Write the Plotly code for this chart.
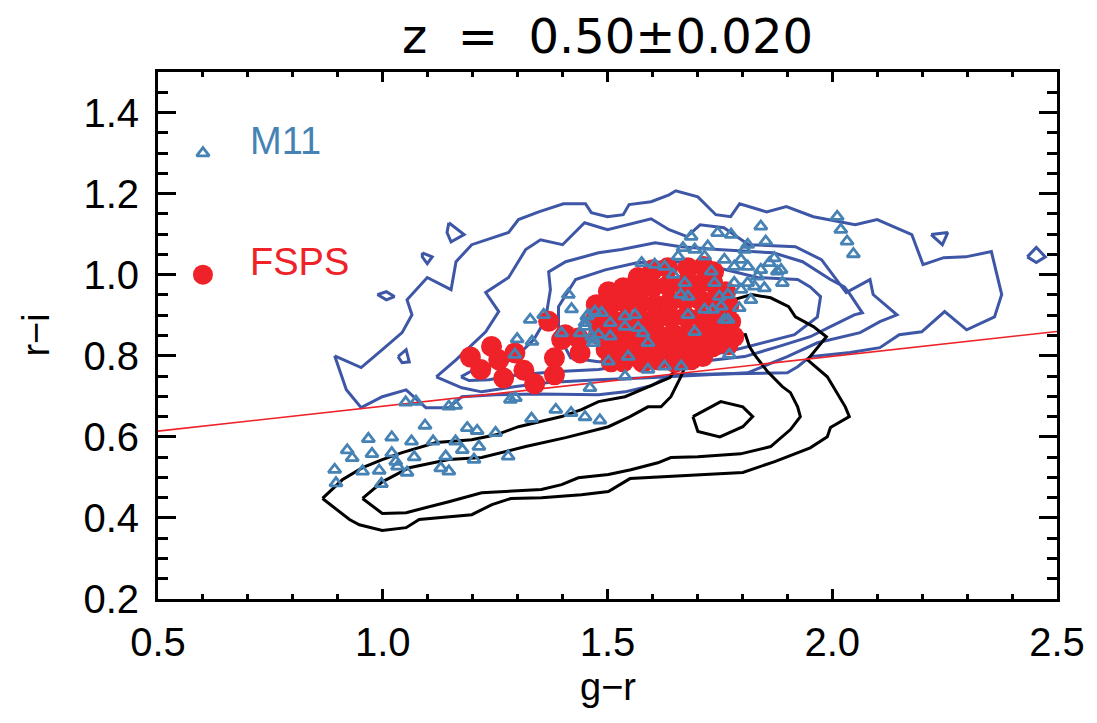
import plotly.graph_objects as go

# ---------------- data ----------------
# M11 model points: g-r, r-i
m11_gr = [0.893,0.896,0.921,0.932,0.955,0.968,0.976,0.992,0.997,1.020,1.020,1.029,1.033,1.054,1.064,1.070,
          1.094,1.112,1.129,1.140,1.147,1.162,1.177,1.188,1.203,1.210,1.214,1.251,1.279,1.331,1.385,1.419,
          1.450,1.483,1.051,1.074,1.147,1.162,1.284,1.295,1.299,1.328,1.332,1.358,1.294,1.398,1.420,1.439,
          1.450,1.457,1.472,1.487,1.465,1.506,1.502,1.539,1.461,1.539,1.561,1.568,1.546,1.413,1.454,1.469,
          1.450,1.480,1.506,1.539,1.579,1.576,1.605,1.627,1.590,1.590,1.627,1.664,1.771,1.768,1.793,1.753,
          1.731,1.738,1.734,1.679,1.672,1.694,1.723,1.745,1.775,1.805,1.812,1.841,1.852,1.871,1.878,1.889,
          1.834,1.827,1.849,1.812,1.782,1.797,1.819,1.716,1.760,1.782,1.716,1.657,1.668,1.686,1.749,1.768,
          1.812,1.841,1.860,1.886,1.797,2.011,2.019,2.033,2.047,1.646,1.663,1.679,1.694,1.760,1.469]
m11_ri = [0.519,0.486,0.567,0.548,0.515,0.595,0.558,0.517,0.484,0.599,0.560,0.539,0.527,0.512,0.589,0.550,
          0.628,0.589,0.523,0.552,0.515,0.589,0.568,0.622,0.544,0.615,0.576,0.610,0.552,0.645,0.667,0.659,
          0.649,0.641,0.685,0.687,0.675,0.677,0.692,0.696,0.841,0.889,0.835,0.901,0.803,0.856,0.915,0.856,
          0.881,0.901,0.909,0.906,0.848,0.881,0.786,0.749,0.721,0.897,0.901,0.869,0.798,0.951,0.897,0.840,
          0.872,0.852,0.848,0.872,0.856,1.029,1.025,1.020,0.832,0.766,0.774,0.774,0.803,0.889,0.918,0.922,
          1.008,0.980,0.914,0.946,0.980,1.062,1.070,1.103,1.099,1.062,1.074,1.119,1.082,1.041,1.008,0.980,
          0.996,0.971,0.967,1.020,1.020,0.963,0.938,1.045,1.037,0.980,0.914,1.045,1.066,1.094,0.946,0.951,
          0.980,1.012,1.029,1.012,1.037,1.143,1.111,1.082,1.051,1.000,0.951,0.901,0.859,0.889,0.832]

# FSPS model points: g-r, r-i
fsps_gr = [1.195,1.218,1.242,1.258,1.269,1.294,1.314,1.338,1.369,1.382,1.382,1.406,1.439,1.398,1.435,
           1.568,1.601,1.634,1.679,1.714,1.736,
           1.502,1.535,1.568,1.601,1.634,1.668,1.701,1.734,1.763,
           1.475,1.506,1.539,1.573,1.606,1.639,1.672,1.706,1.739,1.770,
           1.473,1.506,1.542,1.575,1.608,1.641,1.674,1.708,1.741,1.774,
           1.480,1.513,1.546,1.579,1.612,1.646,1.679,1.712,1.745,1.781,
           1.497,1.528,1.564,1.597,1.630,1.663,1.697,1.734,1.768,
           1.508,1.535,1.579,1.612,1.650,1.686,1.712]
fsps_ri = [0.797,0.766,0.823,0.790,0.745,0.807,0.764,0.731,0.885,0.795,0.753,0.852,0.807,0.840,0.844,
           0.993,1.012,1.017,1.017,1.020,1.007,
           0.958,0.968,0.963,0.970,0.973,0.975,0.975,0.980,0.958,
           0.926,0.926,0.931,0.931,0.926,0.933,0.938,0.938,0.938,0.924,
           0.889,0.894,0.889,0.889,0.889,0.894,0.896,0.894,0.889,0.884,
           0.852,0.852,0.852,0.852,0.852,0.854,0.854,0.857,0.852,0.847,
           0.815,0.815,0.820,0.815,0.817,0.820,0.822,0.822,0.827,
           0.785,0.785,0.783,0.790,0.783,0.790,0.798]

# separation line
cut_gr = [0.5, 2.5]
cut_ri = [0.614, 0.860]

# black contours (observed density)
blk_outer_gr = [0.866,0.910,0.955,0.999,1.043,1.119,1.198,1.252,1.302,1.369,1.398,1.442,1.480,1.539,1.590,1.639,
                1.679,1.728,1.779,1.821,1.863,1.903,1.918,1.958,1.987,1.945,1.989,2.011,2.029,2.038,1.996,1.989,
                1.951,1.872,1.801,1.550,1.502,1.442,1.353,1.285,1.243,1.198,1.081,1.052,0.999,0.948,0.926,0.866]
blk_outer_ri = [0.448,0.494,0.524,0.544,0.561,0.586,0.593,0.605,0.625,0.642,0.650,0.667,0.687,0.699,0.724,0.746,
                0.815,0.894,0.938,0.951,0.943,0.921,0.896,0.872,0.847,0.790,0.748,0.709,0.674,0.650,0.623,0.600,
                0.573,0.539,0.512,0.497,0.465,0.457,0.450,0.448,0.433,0.408,0.396,0.376,0.369,0.383,0.396,0.448]
blk_mid_gr = [0.955,0.999,1.059,1.147,1.220,1.318,1.407,1.502,1.550,1.590,1.619,1.641,1.663,1.679,1.712,1.757,
              1.807,1.816,1.827,1.856,1.889,1.907,1.923,1.929,1.907,1.863,1.796,1.701,1.641,1.612,1.552,1.502,
              1.435,1.398,1.353,1.220,1.147,1.052,0.999,0.955]
blk_mid_ri = [0.448,0.489,0.524,0.544,0.549,0.576,0.598,0.625,0.650,0.674,0.674,0.699,0.748,0.790,0.827,0.847,
              0.852,0.822,0.803,0.761,0.724,0.709,0.674,0.650,0.618,0.576,0.558,0.551,0.549,0.536,0.519,0.507,
              0.499,0.482,0.470,0.462,0.440,0.413,0.411,0.448]
blk_in_gr = [1.690,1.701,1.750,1.801,1.823,1.801,1.752,1.694,1.690]
blk_in_ri = [0.650,0.613,0.600,0.625,0.650,0.674,0.687,0.653,0.650]

# blue contours (M11 density)
blu1_gr = [0.893,0.952,0.999,1.043,1.065,1.054,1.099,1.152,1.163,1.198,1.280,1.302,1.347,1.402,1.451,1.464,
           1.500,1.535,1.548,1.597,1.637,1.652,1.701,1.741,1.774,1.794,1.854,1.898,1.958,2.016,2.051,2.100,
           2.177,2.202,2.248,2.297,2.354,2.377,2.361,2.299,2.250,2.199,2.149,2.106,2.040,1.951,1.923,1.900,
           1.641,1.597,1.539,1.480,1.347,1.251,1.176,1.147,1.096,1.052,0.999,0.952,0.919,0.893]
blu1_ri = [0.800,0.771,0.815,0.857,0.901,0.938,0.993,0.963,1.032,1.074,1.104,1.136,1.155,1.175,1.175,1.153,
           1.143,1.148,1.173,1.180,1.197,1.207,1.192,1.148,1.143,1.175,1.155,1.168,1.143,1.131,1.123,1.136,
           1.099,1.025,1.042,1.044,1.057,0.951,0.896,0.864,0.909,0.859,0.852,0.820,0.808,0.798,0.773,0.758,
           0.753,0.726,0.711,0.704,0.706,0.704,0.699,0.672,0.672,0.716,0.699,0.672,0.716,0.800]
blu2_gr = [1.119,1.163,1.229,1.258,1.229,1.280,1.318,1.351,1.400,1.449,1.500,1.597,1.637,1.677,1.706,1.759,
           1.814,1.918,1.976,2.031,2.084,2.091,2.144,2.106,2.062,1.967,1.900,1.812,1.590,1.480,1.369,1.296,
           1.220,1.176,1.119]
blu2_ri = [0.748,0.790,0.859,0.909,0.956,0.993,1.062,1.086,1.074,1.128,1.111,1.138,1.111,1.094,1.123,1.116,
           1.074,1.069,1.037,0.956,0.988,0.951,0.901,0.884,0.857,0.832,0.798,0.758,0.746,0.741,0.734,0.724,
           0.711,0.721,0.748]
blu3_gr = [1.174,1.203,1.236,1.269,1.302,1.336,1.362,1.373,1.369,1.407,1.480,1.531,1.606,1.663,1.745,1.869,
           1.934,1.996,2.027,2.040,2.067,2.049,1.996,1.951,1.878,1.805,1.701,1.553,1.480,1.391,1.302,1.236,
           1.192,1.174]
blu3_ri = [0.748,0.766,0.776,0.780,0.803,0.840,0.889,0.963,1.007,1.032,1.054,1.062,1.079,1.069,1.062,1.054,
           1.032,0.988,0.970,0.951,0.906,0.901,0.872,0.847,0.822,0.798,0.785,0.778,0.766,0.761,0.753,0.741,
           0.739,0.748]
blu4_gr = [1.480,1.418,1.391,1.391,1.429,1.495,1.568,1.657,1.745,1.834,1.923,1.951,1.974,1.967,1.916,1.827,
           1.761,1.663,1.606,1.480]
blu4_ri = [0.785,0.795,0.852,0.921,0.988,1.012,1.030,1.032,1.017,0.993,0.988,0.970,0.946,0.896,0.852,0.827,
           0.808,0.798,0.790,0.785]
# small blue islands
isl1_gr = [1.147,1.181,1.152,1.143,1.147]; isl1_ri = [1.128,1.099,1.081,1.104,1.128]
isl2_gr = [1.088,1.110,1.099,1.088,1.088]; isl2_ri = [1.054,1.044,1.027,1.044,1.054]
isl3_gr = [0.988,1.008,1.026,1.008,0.988]; isl3_ri = [0.951,0.958,0.946,0.938,0.951]
isl4_gr = [1.034,1.052,1.059,1.043,1.034]; isl4_ri = [0.798,0.815,0.785,0.783,0.798]
isl5_gr = [2.220,2.257,2.245,2.220];       isl5_ri = [1.099,1.104,1.074,1.099]
isl6_gr = [2.434,2.454,2.474,2.454,2.434]; isl6_ri = [1.044,1.067,1.044,1.030,1.044]

# legend positions
leg_tri = (0.60, 1.30)
leg_dot = (0.60, 1.00)

# ---------------- styles ----------------
C_TRI = '#4682B4'
C_RED = '#EE2228'
C_BLUE = '#3E56A6'
FONT = 'Liberation Sans, Arial, Helvetica, sans-serif'
TFONT = 'DejaVu Sans, Liberation Sans, sans-serif'

def join(*segs):
    xs, ys = [], []
    for sx, sy in segs:
        xs += list(sx) + [None]
        ys += list(sy) + [None]
    return xs, ys

fig = go.Figure()

bx, by = join((blu1_gr, blu1_ri), (blu2_gr, blu2_ri), (blu3_gr, blu3_ri), (blu4_gr, blu4_ri),
              (isl1_gr, isl1_ri), (isl2_gr, isl2_ri), (isl3_gr, isl3_ri), (isl4_gr, isl4_ri),
              (isl5_gr, isl5_ri), (isl6_gr, isl6_ri))
fig.add_trace(go.Scatter(x=bx, y=by, mode='lines', line=dict(color=C_BLUE, width=3), hoverinfo='skip'))

kx, ky = join((blk_outer_gr, blk_outer_ri), (blk_mid_gr, blk_mid_ri), (blk_in_gr, blk_in_ri))
fig.add_trace(go.Scatter(x=kx, y=ky, mode='lines', line=dict(color='black', width=3), hoverinfo='skip'))

fig.add_trace(go.Scatter(x=cut_gr, y=cut_ri, mode='lines', line=dict(color=C_RED, width=1.6)))

fig.add_trace(go.Scatter(x=fsps_gr, y=fsps_ri, mode='markers',
                         marker=dict(symbol='circle', size=21, color=C_RED, line=dict(width=0))))
fig.add_trace(go.Scatter(x=m11_gr, y=m11_ri, mode='markers',
                         marker=dict(symbol='triangle-up-open', size=11, color=C_TRI,
                                     line=dict(width=2.8, color=C_TRI))))

# legend symbols
fig.add_trace(go.Scatter(x=[leg_tri[0]], y=[leg_tri[1]], mode='markers',
                         marker=dict(symbol='triangle-up-open', size=11, color=C_TRI,
                                     line=dict(width=2.8, color=C_TRI))))
fig.add_trace(go.Scatter(x=[leg_dot[0]], y=[leg_dot[1]], mode='markers',
                         marker=dict(symbol='circle', size=20, color=C_RED)))

fig.add_annotation(x=0.70, y=1.331, xref='x', yref='y', text='M11', showarrow=False,
                   xanchor='left', yanchor='middle', font=dict(family=FONT, size=38, color=C_TRI))
fig.add_annotation(x=0.70, y=1.031, xref='x', yref='y', text='FSPS', showarrow=False,
                   xanchor='left', yanchor='middle', font=dict(family=FONT, size=38, color=C_RED))

# axis titles
fig.add_annotation(x=0.5, y=(599.3 - 687) / 527, xref='paper', yref='paper', text='g\u2212r',
                   showarrow=False, xanchor='center', yanchor='middle',
                   font=dict(family=FONT, size=38, color='black'))
fig.add_annotation(x=(35 - 157.7) / 903, y=(599.3 - 335) / 527, xref='paper', yref='paper', text='r\u2212i',
                   showarrow=False, xanchor='center', yanchor='middle', textangle=-90,
                   font=dict(family=FONT, size=38, color='black'))

fig.update_layout(
    width=1097, height=723,
    margin=dict(l=158, r=36, t=72, b=124),
    plot_bgcolor='white', paper_bgcolor='white',
    showlegend=False,
    font=dict(family=FONT, size=40, color='black'),
    title=dict(text='z\u00a0\u00a0=\u00a0\u00a00.50\u00b10.020', x=0.5, xref='paper', xanchor='center',
               y=1 - 36 / 723, yref='container', yanchor='middle',
               font=dict(family=TFONT, size=48, color='black')),
)
fig.update_xaxes(range=[0.5, 2.5], tick0=0.5, dtick=0.5, tickformat='.1f',
                 ticks='inside', ticklen=10, tickwidth=3, tickcolor='black',
                 showline=True, linewidth=3, linecolor='black', mirror='allticks',
                 showgrid=False, zeroline=False, ticklabelstandoff=6,
                 tickfont=dict(family=FONT, size=40),
                 minor=dict(dtick=0.1, ticklen=5, tickwidth=2.5, tickcolor='black', ticks='inside', showgrid=False))
fig.update_yaxes(range=[0.2, 1.5], tick0=0.2, dtick=0.2, tickformat='.1f',
                 ticks='inside', ticklen=18, tickwidth=3, tickcolor='black',
                 showline=True, linewidth=3, linecolor='black', mirror='allticks',
                 showgrid=False, zeroline=False, ticklabelstandoff=8,
                 tickfont=dict(family=FONT, size=40),
                 minor=dict(dtick=0.05, ticklen=10, tickwidth=2.5, tickcolor='black', ticks='inside', showgrid=False))

fig.write_html('out.html')
